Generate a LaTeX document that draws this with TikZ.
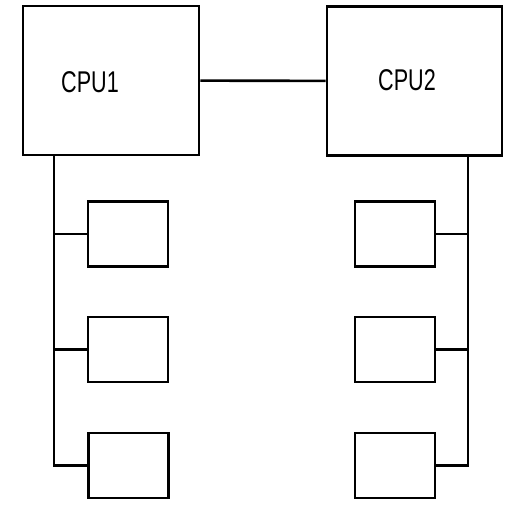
\documentclass[tikz,border=0pt]{standalone}
\usepackage{fontspec}
\setmainfont{Liberation Sans}
\begin{document}
\begin{tikzpicture}[x=1pt,y=-1pt,
  cpubox/.style={draw,line width=2.8pt,minimum width=176pt,minimum height=149pt,inner sep=0pt},
  devbox/.style={draw,line width=2.8pt,minimum width=80pt,minimum height=65pt,inner sep=0pt},
  wire/.style={line width=2.6pt},
  lbl/.style={font=\fontsize{30}{30}\selectfont,xscale=0.72}]
\useasboundingbox (0,0) rectangle (510,504);
\node[cpubox] (cpu1) at (111,80.5) {};
\node[cpubox,minimum width=175pt] (cpu2) at (414.5,81) {};
\node[lbl] (t1) at (90,82) {CPU1};
\node[lbl] (t2) at (407,80) {CPU2};
\node[devbox] (l1) at (128,234) {};
\node[devbox] (l2) at (128,349.5) {};
\node[devbox] (l3) at (128.5,465.5) {};
\node[devbox] (r1) at (395,234) {};
\node[devbox] (r2) at (395,349.5) {};
\node[devbox] (r3) at (395,465.5) {};
\coordinate (lb) at (54,465.5);
\coordinate (rb) at (468,465.5);
\draw[wire] (cpu1) -- (cpu2);
\draw[wire] (cpu1.south -| lb) -- (lb) -- (l3.west);
\draw[wire] (l1.west) -- (l1.west -| lb);
\draw[wire] (l2.west) -- (l2.west -| lb);
\draw[wire] (cpu2.south -| rb) -- (rb) -- (r3.east);
\draw[wire] (r1.east) -- (r1.east -| rb);
\draw[wire] (r2.east) -- (r2.east -| rb);
\end{tikzpicture}
\end{document}
